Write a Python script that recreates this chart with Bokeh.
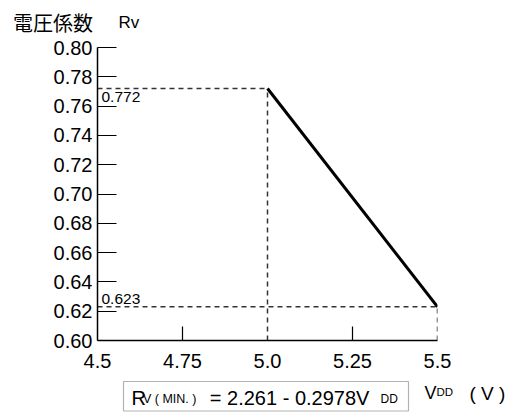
from bokeh.plotting import figure
from bokeh.layouts import column
from bokeh.models import Range1d, FixedTicker, Label, ColumnDataSource, BoxAnnotation
from bokeh.embed import file_html
from bokeh.resources import INLINE

# ---- data ----
vdd = [5.0, 5.5]
rv = [0.772, 0.623]
x_ticks = [4.5, 4.75, 5.0, 5.25, 5.5]
x_tick_labels = ["4.5", "4.75", "5.0", "5.25", "5.5"]
x_minor = [4.75, 5.25]
y_ticks = [0.60, 0.62, 0.64, 0.66, 0.68, 0.70, 0.72, 0.74, 0.76, 0.78, 0.80]
y_tick_labels = ["0.60", "0.62", "0.64", "0.66", "0.68", "0.70", "0.72", "0.74", "0.76", "0.78", "0.80"]
x_min, x_max = 4.5, 5.5
y_min, y_max = 0.60, 0.80

FONT = "Liberation Sans"
W = 512
H_TOP, H_MAIN, H_BOT = 35, 337, 42


def text_panel(h):
    f = figure(width=W, height=h, x_range=Range1d(0, W), y_range=Range1d(h, 0),
               output_backend="svg", toolbar_location=None, title=None,
               x_axis_location=None, y_axis_location=None, frame_align=False,
               min_border_left=0, min_border_right=0, min_border_top=0, min_border_bottom=0)
    f.outline_line_color = None
    f.grid.grid_line_color = None
    f.background_fill_color = "white"
    f.border_fill_color = "white"
    return f


def lab(f, x, y, text, size, font=FONT, align="left", baseline="top"):
    f.add_layout(Label(x=x, y=y, text=text, text_font=font, text_font_size=size,
                       text_align=align, text_baseline=baseline, text_color="black"))


# ---- top: y-axis title ----
top = text_panel(H_TOP)
lab(top, 12.5, 7, "電圧係数", "20px", font="Noto Sans CJK JP")
lab(top, 118, 12.5, "Rv", "17px")

# ---- main plot ----
p = figure(width=W, height=H_MAIN, x_range=Range1d(x_min, x_max), y_range=Range1d(y_min, y_max),
           output_backend="svg", toolbar_location=None, title=None, frame_align=False,
           min_border_left=97, min_border_right=75, min_border_top=12, min_border_bottom=32)
p.outline_line_color = None
p.grid.grid_line_color = None
p.background_fill_color = "white"
p.border_fill_color = "white"

xa = p.xaxis[0]
xa.ticker = FixedTicker(ticks=x_ticks, minor_ticks=x_minor)
xa.major_label_overrides = dict(zip(x_ticks, x_tick_labels))
xa.major_tick_line_color = None
xa.minor_tick_in = 14
xa.minor_tick_out = 0
xa.minor_tick_line_color = "black"
xa.minor_tick_line_width = 1.2
xa.axis_line_color = "black"
xa.axis_line_width = 1.5
xa.major_label_text_font = FONT
xa.major_label_text_font_size = "20px"
xa.major_label_text_color = "black"
xa.major_label_standoff = 7

ya = p.yaxis[0]
ya.ticker = FixedTicker(ticks=y_ticks)
ya.major_label_overrides = dict(zip(y_ticks, y_tick_labels))
ya.major_tick_in = 19
ya.major_tick_out = 0
ya.major_tick_line_color = "black"
ya.major_tick_line_width = 1.2
ya.minor_tick_line_color = None
ya.axis_line_color = "black"
ya.axis_line_width = 1.5
ya.major_label_text_font = FONT
ya.major_label_text_font_size = "20px"
ya.major_label_text_color = "black"
ya.major_label_standoff = 5

guides = ColumnDataSource(dict(
    x0=[x_min, vdd[0], x_min, vdd[1]],
    y0=[rv[0], y_min, rv[1], y_min],
    x1=[vdd[0], vdd[0], vdd[1], vdd[1]],
    y1=[rv[0], rv[0], rv[1], rv[1]],
))
p.segment(x0="x0", y0="y0", x1="x1", y1="y1", source=guides,
          line_color="#333333", line_width=1.5, line_dash="5 4")
p.line(vdd, rv, line_color="black", line_width=3)

p.add_layout(Label(x=x_min, y=rv[0], text=f"{rv[0]:.3f}", x_offset=4, y_offset=-3,
                   text_baseline="top", text_font=FONT, text_font_size="15.5px", text_color="black"))
p.add_layout(Label(x=x_min, y=rv[1], text=f"{rv[1]:.3f}", x_offset=4, y_offset=3,
                   text_baseline="bottom", text_font=FONT, text_font_size="15.5px", text_color="black"))

# ---- bottom: formula and x-axis title ----
bot = text_panel(H_BOT)
bot.add_layout(BoxAnnotation(left=123, right=408, top=9, bottom=38.5,
                             fill_color=None, line_color="black", line_width=1.2))
lab(bot, 131, 14, "R", "20px")
lab(bot, 142.5, 19.2, "V ( MIN. )", "12.5px")
lab(bot, 380, 14, "= 2.261  -  0.2978V", "20px", align="right")
lab(bot, 380, 19.5, "DD", "12px")
lab(bot, 436, 10, "V", "18px", align="right")
lab(bot, 436, 13, "DD", "11.5px")
lab(bot, 469, 10, "( V )", "19px")

layout = column(top, p, bot, spacing=0)
open("out.html", "w").write(file_html(layout, INLINE))
